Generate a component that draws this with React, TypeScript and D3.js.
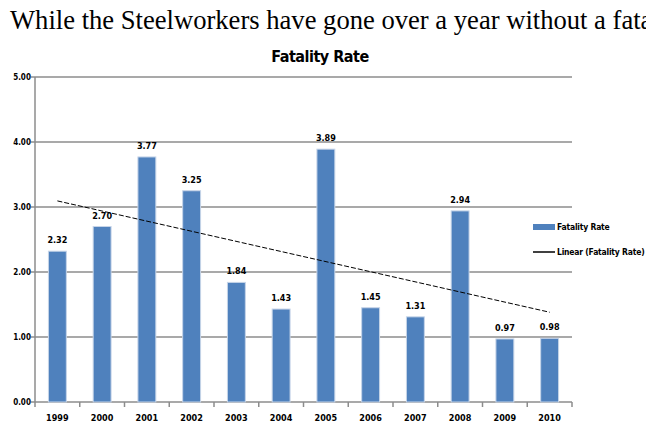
import React, { useEffect, useRef } from "react";
import * as d3 from "d3";

const years = ["1999", "2000", "2001", "2002", "2003", "2004", "2005", "2006", "2007", "2008", "2009", "2010"];
const rates = [2.32, 2.7, 3.77, 3.25, 1.84, 1.43, 3.89, 1.45, 1.31, 2.94, 0.97, 0.98];
const yTicks = [0, 1, 2, 3, 4, 5];

const App = () => {
  const svgRef = useRef<SVGSVGElement>(null);
  const svgWidth = 646;
  const svgHeight = 427;

  useEffect(() => {
    const MARGIN = { TOP: 77, BOTTOM: 25, LEFT: 35, RIGHT: 74 };
    const WIDTH = svgWidth - MARGIN.LEFT - MARGIN.RIGHT;
    const HEIGHT = svgHeight - MARGIN.TOP - MARGIN.BOTTOM;
    const FONT = "'DejaVu Sans Condensed', 'Liberation Sans Narrow', Arial, sans-serif";

    const svg = d3.select(svgRef.current);
    svg.selectAll("*").remove();

    // heading text runs off the right edge, as in the source page
    svg
      .append("text")
      .attr("x", 10)
      .attr("y", 29)
      .attr("font-family", "'Liberation Serif', 'Times New Roman', serif")
      .attr("font-size", 26.6)
      .text("While the Steelworkers have gone over a year without a fatality");

    svg
      .append("text")
      .attr("x", 320)
      .attr("y", 62)
      .attr("text-anchor", "middle")
      .attr("font-family", FONT)
      .attr("font-weight", "bold")
      .attr("font-size", 16)
      .attr("letter-spacing", -0.5)
      .text("Fatality Rate");

    const g = svg.append("g").attr("transform", `translate(${MARGIN.LEFT}, ${MARGIN.TOP})`);

    const x = d3.scaleBand().domain(years).range([0, WIDTH]).paddingInner(0.6).paddingOuter(0.3);
    const y = d3.scaleLinear().domain([0, 5]).range([HEIGHT, 0]);

    // gridlines
    g.selectAll(".grid")
      .data(yTicks.slice(1))
      .enter()
      .append("line")
      .attr("x1", 0)
      .attr("x2", WIDTH)
      .attr("y1", (d) => y(d))
      .attr("y2", (d) => y(d))
      .attr("stroke", "#8c8c8c")
      .attr("stroke-width", 1.5);

    // y axis
    g.append("line")
      .attr("x1", 0)
      .attr("x2", 0)
      .attr("y1", 0)
      .attr("y2", HEIGHT)
      .attr("stroke", "#8c8c8c")
      .attr("stroke-width", 1.5);
    g.selectAll(".ytick")
      .data(yTicks)
      .enter()
      .append("line")
      .attr("x1", -4)
      .attr("x2", 0)
      .attr("y1", (d) => y(d))
      .attr("y2", (d) => y(d))
      .attr("stroke", "#8c8c8c")
      .attr("stroke-width", 1.5);
    g.selectAll(".ylabel")
      .data(yTicks)
      .enter()
      .append("text")
      .attr("x", -13)
      .attr("y", (d) => y(d) + 3)
      .attr("text-anchor", "middle")
      .attr("font-family", FONT)
      .attr("font-weight", "bold")
      .attr("font-size", 8)
      .text((d) => d.toFixed(2));

    // x axis
    g.append("line")
      .attr("x1", 0)
      .attr("x2", WIDTH)
      .attr("y1", HEIGHT)
      .attr("y2", HEIGHT)
      .attr("stroke", "#8c8c8c")
      .attr("stroke-width", 1.5);
    const step = x.step();
    const tickX = (i: number) =>
      i === 0 ? 0 : i === years.length ? WIDTH : x(years[i - 1])! + x.bandwidth() / 2 + step / 2;
    g.selectAll(".xtick")
      .data(d3.range(years.length + 1))
      .enter()
      .append("line")
      .attr("x1", tickX)
      .attr("x2", tickX)
      .attr("y1", HEIGHT)
      .attr("y2", HEIGHT + 5)
      .attr("stroke", "#8c8c8c")
      .attr("stroke-width", 1.5);
    g.selectAll(".xlabel")
      .data(years)
      .enter()
      .append("text")
      .attr("x", (d) => x(d)! + x.bandwidth() / 2)
      .attr("y", HEIGHT + 19)
      .attr("text-anchor", "middle")
      .attr("font-family", FONT)
      .attr("font-weight", "bold")
      .attr("font-size", 9)
      .text((d) => d);

    // bars
    g.selectAll(".bar")
      .data(rates)
      .enter()
      .append("rect")
      .attr("x", (d, i) => x(years[i])!)
      .attr("y", (d) => y(d))
      .attr("width", x.bandwidth())
      .attr("height", (d) => HEIGHT - y(d))
      .attr("fill", "#4f81bd")
      .attr("stroke", "#c6d4e8")
      .attr("stroke-width", 1);

    g.selectAll(".label")
      .data(rates)
      .enter()
      .append("text")
      .attr("x", (d, i) => x(years[i])! + x.bandwidth() / 2)
      .attr("y", (d) => y(d) - 8)
      .attr("text-anchor", "middle")
      .attr("font-family", FONT)
      .attr("font-weight", "bold")
      .attr("font-size", 9)
      .text((d) => d.toFixed(2));

    // linear trend line (least squares)
    const n = rates.length;
    const idx = d3.range(n);
    const mx = d3.mean(idx)!;
    const my = d3.mean(rates)!;
    const slope =
      d3.sum(idx, (i) => (i - mx) * (rates[i] - my)) / d3.sum(idx, (i) => (i - mx) * (i - mx));
    const intercept = my - slope * mx;
    const cx = (i: number) => x(years[i])! + x.bandwidth() / 2;
    g.append("line")
      .attr("x1", cx(0))
      .attr("x2", cx(n - 1))
      .attr("y1", y(intercept))
      .attr("y2", y(intercept + slope * (n - 1)))
      .attr("stroke", "#000")
      .attr("stroke-width", 1)
      .attr("stroke-dasharray", "5,2");

    // legend
    const lg = svg.append("g").attr("transform", "translate(533, 227)");
    lg.append("rect").attr("x", 0).attr("y", -3).attr("width", 22).attr("height", 6).attr("fill", "#4f81bd");
    lg.append("text")
      .attr("x", 24)
      .attr("y", 3)
      .attr("font-family", FONT)
      .attr("font-weight", "bold")
      .attr("font-size", 8.5)
      .attr("letter-spacing", -0.2)
      .text("Fatality Rate");
    lg.append("line").attr("x1", 0).attr("x2", 22).attr("y1", 25).attr("y2", 25).attr("stroke", "#000").attr("stroke-width", 1.5);
    lg.append("text")
      .attr("x", 24)
      .attr("y", 28)
      .attr("font-family", FONT)
      .attr("font-weight", "bold")
      .attr("font-size", 8.5)
      .attr("letter-spacing", -0.2)
      .text("Linear (Fatality Rate)");
  }, []);

  return (
    <svg
      ref={svgRef}
      width={svgWidth}
      height={svgHeight}
      style={{ position: "absolute", left: 0, top: 0, background: "#fff" }}
    />
  );
};

export default App;
